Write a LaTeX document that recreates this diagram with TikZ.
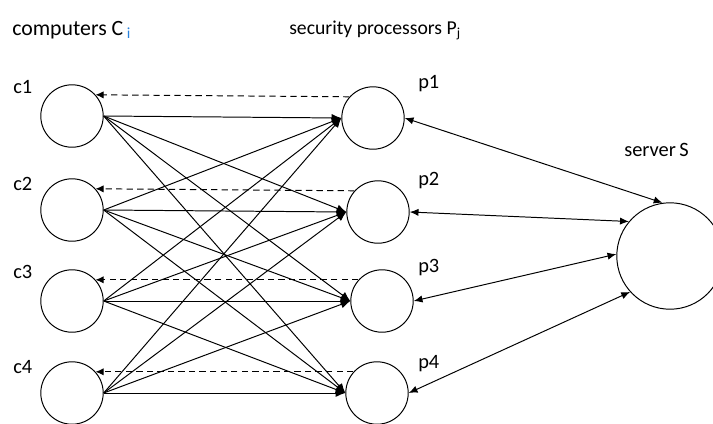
\documentclass[tikz,border=0pt]{standalone}
\usepackage{fontspec}
\setmainfont{Carlito}
\usepackage{xcolor}
\usetikzlibrary{arrows.meta, positioning}
\definecolor{subblue}{RGB}{40,130,220}

\begin{document}
\begin{tikzpicture}[
  x=0.025cm, y=-0.025cm,
  font=\fontsize{14.5}{16}\selectfont,
  comp/.style={circle, draw, line width=0.7pt, minimum size=1.56cm, inner sep=0pt},
  srv/.style={circle, draw, line width=0.7pt, minimum size=2.66cm, inner sep=0pt},
  arr/.style={-{Latex[length=2.4mm, width=2mm]}, line width=0.7pt},
  back/.style={-{Latex[length=2mm, width=1.8mm]}, line width=0.7pt,
               dash pattern=on 4.5pt off 3pt},
  both/.style={{Latex[length=2.2mm, width=1.8mm]}-{Latex[length=2.2mm, width=1.8mm]}, line width=0.7pt},
  lbl/.style={inner sep=0pt, anchor=west}
]
\useasboundingbox (0,0) rectangle (713,423);

% --- Headings ---
\node[lbl] (hc) at (12,30)  {\fontsize{15.5}{17}\selectfont computers C\,\raisebox{-0.3ex}{\fontsize{11}{12}\selectfont\color{subblue}i}};
\node[lbl] (hp) at (289,30) {\fontsize{14}{16}\selectfont security processors P\textsubscript{j}};
\node[lbl] (hs) at (624,150) {server\,S};

% --- Computers ---
\node[comp] (c1) at (72,116) {};
\node[comp] (c2) at (72,210) {};
\node[comp] (c3) at (72,301) {};
\node[comp] (c4) at (72,393) {};
\node[lbl] at (13,87)  {c1};
\node[lbl] at (13,184) {c2};
\node[lbl] at (13,272) {c3};
\node[lbl] at (13,367) {c4};

% --- Security processors ---
\node[comp] (p1) at (373,118) {};
\node[comp] (p2) at (378,212) {};
\node[comp] (p3) at (382,301) {};
\node[comp] (p4) at (377,393) {};
\node[lbl] at (418,84)  {p1};
\node[lbl] at (418,181) {p2};
\node[lbl] at (418,268) {p3};
\node[lbl] at (418,364) {p4};

% --- Server ---
\node[srv] (S) at (670,256) {};

% c1 -> all processors
\draw[arr] (c1.east) -- (p1.west);
\draw[arr] (c1.east) -- (p2.west);
\draw[arr] (c1.east) -- (p3.west);
\draw[arr] (c1.east) -- (p4.west);

% c2 -> all processors
\draw[arr] (c2.east) -- (p1.west);
\draw[arr] (c2.east) -- (p2.west);
\draw[arr] (c2.east) -- (p3.west);
\draw[arr] (c2.east) -- (p4.west);

% c3 -> all processors
\draw[arr] (c3.east) -- (p1.west);
\draw[arr] (c3.east) -- (p2.west);
\draw[arr] (c3.east) -- (p3.west);
\draw[arr] (c3.east) -- (p4.west);

% c4 -> all processors
\draw[arr] (c4.east) -- (p1.west);
\draw[arr] (c4.east) -- (p2.west);
\draw[arr] (c4.east) -- (p3.west);
\draw[arr] (c4.east) -- (p4.west);

% replies back to the computers
\draw[back] (p1.138) -- (c1.42);
\draw[back] (p2.138) -- (c2.42);
\draw[back] (p3.138) -- (c3.42);
\draw[back] (p4.138) -- (c4.42);

% processors <-> server
\draw[both] (p1.east) -- (S.98);
\draw[both] (p2.east) -- (S.140);
\draw[both] (p3.east) -- (S.178);
\draw[both] (p4.east) -- (S.222);

\end{tikzpicture}
\end{document}
